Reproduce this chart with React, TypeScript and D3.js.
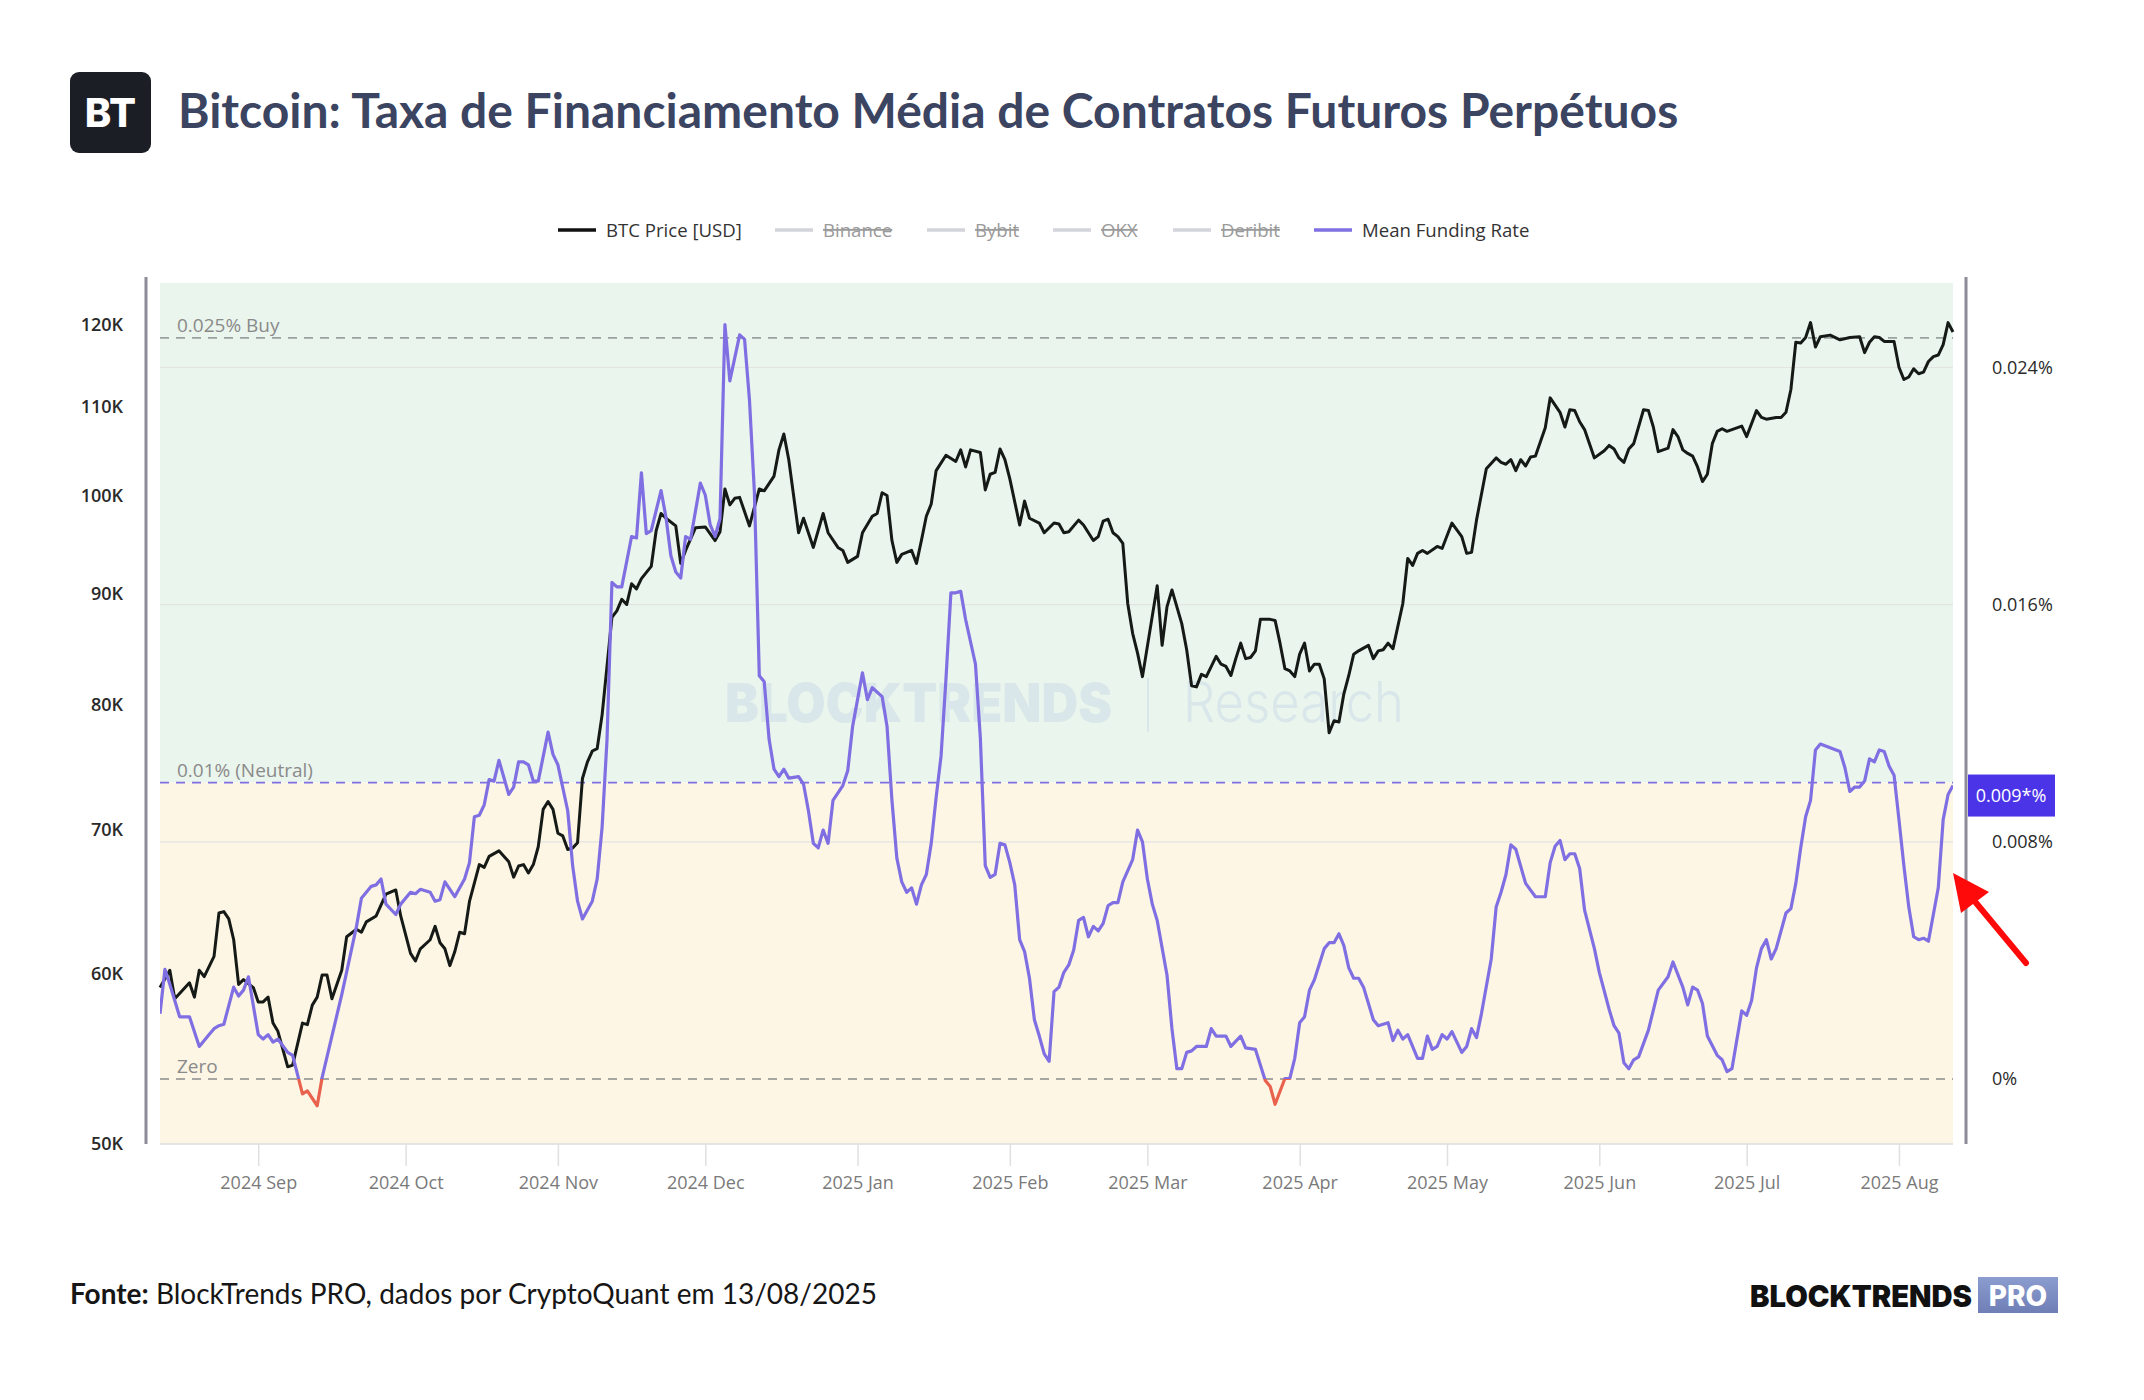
import { useEffect, useRef } from 'react'
import * as d3 from 'd3'

// BTC price (USD)
const btcDates = [
  '2024-08-12','2024-08-14','2024-08-15','2024-08-18','2024-08-19','2024-08-20','2024-08-21','2024-08-23','2024-08-24','2024-08-25',
  '2024-08-26','2024-08-27','2024-08-28','2024-08-29','2024-08-31','2024-09-01','2024-09-02','2024-09-03','2024-09-04','2024-09-05',
  '2024-09-07','2024-09-08','2024-09-10','2024-09-11','2024-09-12','2024-09-13','2024-09-14','2024-09-15','2024-09-16','2024-09-18',
  '2024-09-19','2024-09-21','2024-09-22','2024-09-23','2024-09-25','2024-09-27','2024-09-29','2024-09-30','2024-10-02','2024-10-03',
  '2024-10-04','2024-10-06','2024-10-07','2024-10-08','2024-10-09','2024-10-10','2024-10-11','2024-10-12','2024-10-13','2024-10-14',
  '2024-10-16','2024-10-17','2024-10-18','2024-10-20','2024-10-22','2024-10-23','2024-10-24','2024-10-25','2024-10-26','2024-10-27',
  '2024-10-28','2024-10-29','2024-10-30','2024-10-31','2024-11-01','2024-11-02','2024-11-03','2024-11-04','2024-11-05','2024-11-06',
  '2024-11-07','2024-11-08','2024-11-09','2024-11-10','2024-11-12','2024-11-13','2024-11-14','2024-11-15','2024-11-16','2024-11-17',
  '2024-11-18','2024-11-20','2024-11-21','2024-11-22','2024-11-23','2024-11-25','2024-11-26','2024-11-27','2024-11-29','2024-12-01',
  '2024-12-03','2024-12-04','2024-12-05','2024-12-06','2024-12-07','2024-12-08','2024-12-10','2024-12-12','2024-12-13','2024-12-15',
  '2024-12-16','2024-12-17','2024-12-18','2024-12-20','2024-12-21','2024-12-23','2024-12-25','2024-12-26','2024-12-28','2024-12-29',
  '2024-12-30','2025-01-01','2025-01-02','2025-01-04','2025-01-05','2025-01-06','2025-01-07','2025-01-08','2025-01-09','2025-01-10',
  '2025-01-12','2025-01-13','2025-01-14','2025-01-15','2025-01-16','2025-01-17','2025-01-19','2025-01-21','2025-01-22','2025-01-23',
  '2025-01-24','2025-01-26','2025-01-27','2025-01-28','2025-01-29','2025-01-30','2025-01-31','2025-02-01','2025-02-03','2025-02-04',
  '2025-02-05','2025-02-07','2025-02-08','2025-02-10','2025-02-11','2025-02-12','2025-02-13','2025-02-15','2025-02-16','2025-02-18',
  '2025-02-19','2025-02-20','2025-02-21','2025-02-22','2025-02-23','2025-02-24','2025-02-25','2025-02-26','2025-02-27','2025-02-28',
  '2025-03-03','2025-03-04','2025-03-05','2025-03-06','2025-03-08','2025-03-09','2025-03-10','2025-03-11','2025-03-12','2025-03-13',
  '2025-03-15','2025-03-16','2025-03-17','2025-03-18','2025-03-19','2025-03-20','2025-03-21','2025-03-22','2025-03-23','2025-03-24',
  '2025-03-26','2025-03-27','2025-03-28','2025-03-29','2025-03-30','2025-03-31','2025-04-01','2025-04-02','2025-04-03','2025-04-04',
  '2025-04-05','2025-04-06','2025-04-07','2025-04-08','2025-04-09','2025-04-10','2025-04-11','2025-04-12','2025-04-13','2025-04-15',
  '2025-04-16','2025-04-17','2025-04-18','2025-04-19','2025-04-20','2025-04-22','2025-04-23','2025-04-24','2025-04-25','2025-04-26',
  '2025-04-27','2025-04-29','2025-04-30','2025-05-02','2025-05-04','2025-05-05','2025-05-06','2025-05-07','2025-05-09','2025-05-11',
  '2025-05-12','2025-05-13','2025-05-14','2025-05-15','2025-05-16','2025-05-17','2025-05-18','2025-05-19','2025-05-21','2025-05-22',
  '2025-05-24','2025-05-25','2025-05-26','2025-05-27','2025-05-28','2025-05-29','2025-05-31','2025-06-02','2025-06-03','2025-06-04',
  '2025-06-05','2025-06-06','2025-06-07','2025-06-08','2025-06-10','2025-06-11','2025-06-12','2025-06-13','2025-06-15','2025-06-16',
  '2025-06-17','2025-06-18','2025-06-19','2025-06-20','2025-06-21','2025-06-22','2025-06-23','2025-06-24','2025-06-25','2025-06-26',
  '2025-06-27','2025-06-29','2025-06-30','2025-07-01','2025-07-03','2025-07-04','2025-07-05','2025-07-07','2025-07-08','2025-07-09',
  '2025-07-10','2025-07-11','2025-07-12','2025-07-13','2025-07-14','2025-07-15','2025-07-16','2025-07-18','2025-07-20','2025-07-22',
  '2025-07-24','2025-07-25','2025-07-26','2025-07-27','2025-07-28','2025-07-29','2025-07-31','2025-08-01','2025-08-02','2025-08-03',
  '2025-08-04','2025-08-05','2025-08-06','2025-08-07','2025-08-08','2025-08-09','2025-08-10','2025-08-11','2025-08-12'
]
const btcPrice = [
  59100,60200,58400,59400,58500,60200,59800,61100,64000,64100,
  63600,62200,59300,59600,59100,58200,58200,58500,56900,56400,
  54300,54400,56900,56800,58000,58500,59900,59900,58400,60200,
  62400,62900,62700,63400,63800,65300,65600,63800,61300,60800,
  61600,62200,63100,62000,61600,60500,61400,62700,62600,64800,
  67400,67200,68000,68400,67600,66500,67300,67400,66800,67400,
  68700,71500,72100,71500,69700,69500,68500,68600,69000,73900,
  75200,76100,76300,79100,87800,88400,89500,89000,91000,90500,
  91500,92700,96300,98100,97600,96800,93000,94300,96600,96700,
  95300,96200,100700,99000,99700,99800,96800,100700,100500,102100,
  105000,106800,103900,96100,97600,94600,98100,96100,94600,94300,
  93100,93700,96100,97800,98100,100300,100000,95300,93100,93900,
  94300,93000,95300,97800,99100,102700,104400,103700,105000,103100,
  105000,104700,100600,102300,102500,105100,103900,101800,96900,99400,
  97600,97100,96100,97100,97000,96100,96200,97400,96900,95300,
  95700,97300,97500,96100,95700,95000,89100,86300,84500,82400,
  90800,85200,88800,90400,87200,84800,81600,81500,82600,82400,
  84200,83500,83300,82500,84000,85400,84000,84100,84700,87600,
  87600,87500,85400,83100,82900,82400,84400,85400,82900,83500,
  83500,82200,77600,78600,78500,80900,82500,84400,84700,85200,
  84000,84700,84800,85400,84900,89100,93500,92800,94000,94300,
  94000,94700,94500,97100,95700,94000,94100,97400,102900,104100,
  103600,103400,103900,102700,103900,103200,104200,104300,107500,111000,
  109300,107600,109600,109500,108200,107300,104100,104900,105500,105100,
  104100,103600,105100,105700,109600,109500,107600,104800,105200,107300,
  106500,105000,104600,104300,103100,101500,102300,105700,107100,107400,
  107100,107500,107700,106500,109500,108700,108500,108700,108700,109300,
  112000,117800,117700,118400,120300,117200,118500,118700,118100,118400,
  118500,116500,117800,118500,118400,117900,117900,114700,113200,113500,
  114500,113900,114100,115400,116000,116200,117500,120300,119100
]

// Mean funding rate (%)
const fundingDates = [
  '2024-08-12','2024-08-13','2024-08-14','2024-08-16','2024-08-18','2024-08-20','2024-08-22','2024-08-23','2024-08-24','2024-08-25',
  '2024-08-27','2024-08-28','2024-08-29','2024-08-30','2024-09-01','2024-09-02','2024-09-03','2024-09-04','2024-09-05','2024-09-07',
  '2024-09-08','2024-09-10','2024-09-11','2024-09-13','2024-09-14','2024-09-18','2024-09-21','2024-09-22','2024-09-24','2024-09-25',
  '2024-09-26','2024-09-27','2024-09-29','2024-09-30','2024-10-02','2024-10-03','2024-10-04','2024-10-06','2024-10-07','2024-10-08',
  '2024-10-09','2024-10-11','2024-10-13','2024-10-14','2024-10-15','2024-10-16','2024-10-17','2024-10-18','2024-10-19','2024-10-20',
  '2024-10-22','2024-10-23','2024-10-24','2024-10-25','2024-10-26','2024-10-27','2024-10-28','2024-10-30','2024-10-31','2024-11-01',
  '2024-11-03','2024-11-04','2024-11-05','2024-11-06','2024-11-08','2024-11-09','2024-11-10','2024-11-11','2024-11-12','2024-11-13',
  '2024-11-14','2024-11-16','2024-11-17','2024-11-18','2024-11-19','2024-11-20','2024-11-22','2024-11-23','2024-11-24','2024-11-25',
  '2024-11-26','2024-11-27','2024-11-28','2024-11-30','2024-12-01','2024-12-02','2024-12-03','2024-12-04','2024-12-05','2024-12-06',
  '2024-12-08','2024-12-09','2024-12-10','2024-12-11','2024-12-12','2024-12-13','2024-12-14','2024-12-15','2024-12-16','2024-12-17',
  '2024-12-18','2024-12-20','2024-12-21','2024-12-22','2024-12-23','2024-12-24','2024-12-25','2024-12-26','2024-12-27','2024-12-29',
  '2024-12-30','2024-12-31','2025-01-02','2025-01-03','2025-01-04','2025-01-06','2025-01-07','2025-01-08','2025-01-09','2025-01-10',
  '2025-01-11','2025-01-12','2025-01-13','2025-01-14','2025-01-15','2025-01-16','2025-01-17','2025-01-18','2025-01-19','2025-01-20',
  '2025-01-21','2025-01-22','2025-01-23','2025-01-25','2025-01-26','2025-01-27','2025-01-28','2025-01-29','2025-01-30','2025-01-31',
  '2025-02-01','2025-02-02','2025-02-03','2025-02-04','2025-02-05','2025-02-06','2025-02-07','2025-02-08','2025-02-09','2025-02-10',
  '2025-02-11','2025-02-12','2025-02-13','2025-02-14','2025-02-15','2025-02-16','2025-02-17','2025-02-18','2025-02-19','2025-02-20',
  '2025-02-21','2025-02-22','2025-02-23','2025-02-24','2025-02-26','2025-02-27','2025-02-28','2025-03-01','2025-03-02','2025-03-03',
  '2025-03-05','2025-03-06','2025-03-07','2025-03-08','2025-03-09','2025-03-10','2025-03-11','2025-03-13','2025-03-14','2025-03-15',
  '2025-03-17','2025-03-18','2025-03-20','2025-03-21','2025-03-23','2025-03-25','2025-03-26','2025-03-27','2025-03-29','2025-03-30',
  '2025-03-31','2025-04-01','2025-04-02','2025-04-03','2025-04-04','2025-04-06','2025-04-07','2025-04-08','2025-04-09','2025-04-10',
  '2025-04-11','2025-04-12','2025-04-13','2025-04-14','2025-04-16','2025-04-17','2025-04-19','2025-04-20','2025-04-21','2025-04-22',
  '2025-04-23','2025-04-25','2025-04-26','2025-04-27','2025-04-28','2025-04-29','2025-04-30','2025-05-01','2025-05-02','2025-05-04',
  '2025-05-05','2025-05-06','2025-05-07','2025-05-08','2025-05-10','2025-05-11','2025-05-12','2025-05-13','2025-05-14','2025-05-15',
  '2025-05-17','2025-05-19','2025-05-21','2025-05-22','2025-05-23','2025-05-24','2025-05-25','2025-05-26','2025-05-27','2025-05-28',
  '2025-05-29','2025-05-31','2025-06-01','2025-06-03','2025-06-04','2025-06-05','2025-06-06','2025-06-07','2025-06-08','2025-06-09',
  '2025-06-11','2025-06-13','2025-06-15','2025-06-16','2025-06-18','2025-06-19','2025-06-20','2025-06-21','2025-06-22','2025-06-23',
  '2025-06-25','2025-06-26','2025-06-27','2025-06-28','2025-06-30','2025-07-01','2025-07-02','2025-07-03','2025-07-04','2025-07-05',
  '2025-07-06','2025-07-07','2025-07-09','2025-07-10','2025-07-11','2025-07-12','2025-07-13','2025-07-14','2025-07-15','2025-07-16',
  '2025-07-20','2025-07-21','2025-07-22','2025-07-23','2025-07-24','2025-07-25','2025-07-26','2025-07-27','2025-07-28','2025-07-29',
  '2025-07-30','2025-07-31','2025-08-01','2025-08-02','2025-08-03','2025-08-04','2025-08-05','2025-08-06','2025-08-07','2025-08-08',
  '2025-08-09','2025-08-10','2025-08-11','2025-08-12'
]
const fundingRate = [
  0.0022,0.0037,0.0032,0.0021,0.0021,0.0011,0.0015,0.0017,0.0018,0.00185,
  0.0031,0.0028,0.0030,0.00345,0.0015,0.00135,0.0015,0.00125,0.00135,0.0009,
  0.0008,-0.0005,-0.0004,-0.0009,0.00005,0.00285,0.00515,0.0061,0.0065,0.00655,
  0.00675,0.0059,0.00555,0.0059,0.0063,0.00625,0.0064,0.0063,0.0060,0.00605,
  0.00665,0.00615,0.00675,0.0073,0.00885,0.0089,0.00925,0.0101,0.01005,0.01075,
  0.0096,0.00985,0.0107,0.0107,0.0106,0.01005,0.01005,0.0117,0.01095,0.0106,
  0.00905,0.0072,0.0060,0.0054,0.0060,0.00675,0.0085,0.01145,0.01675,0.0166,
  0.0166,0.0183,0.01825,0.02045,0.0184,0.0185,0.01985,0.01895,0.01765,0.0171,
  0.0169,0.0183,0.0182,0.0201,0.0197,0.0187,0.0183,0.0189,0.02545,0.02355,
  0.0251,0.02495,0.0229,0.0198,0.0136,0.0134,0.01145,0.01045,0.0102,0.01045,
  0.01015,0.0102,0.00995,0.00905,0.00795,0.0078,0.0084,0.00795,0.0094,0.0099,
  0.0104,0.0119,0.0137,0.0128,0.0132,0.0129,0.0119,0.0094,0.00745,0.00665,
  0.0063,0.00645,0.0059,0.00655,0.0069,0.00795,0.0095,0.0109,0.0135,0.0164,
  0.0164,0.01645,0.0155,0.0140,0.0115,0.0072,0.0068,0.0069,0.00795,0.0079,
  0.0073,0.00655,0.0047,0.0043,0.0034,0.0020,0.00145,0.00085,0.0006,0.00295,
  0.0031,0.0036,0.00385,0.00435,0.00535,0.00545,0.0048,0.00515,0.0050,0.00525,
  0.00585,0.00595,0.00595,0.00665,0.0074,0.0084,0.0080,0.00675,0.0059,0.00535,
  0.0035,0.0017,0.00035,0.00035,0.0009,0.00095,0.0011,0.0011,0.0017,0.00145,
  0.00145,0.0011,0.00145,0.00105,0.0010,-0.00005,-0.00025,-0.00085,0.00002,0.00002,
  0.0007,0.0019,0.0021,0.0030,0.00335,0.0044,0.0046,0.0046,0.0049,0.0045,
  0.00375,0.0034,0.0034,0.0031,0.0020,0.0018,0.0019,0.0013,0.00165,0.00135,
  0.0015,0.0007,0.0007,0.00145,0.0010,0.0011,0.0015,0.00135,0.0016,0.0009,
  0.0011,0.0017,0.0014,0.0022,0.00405,0.0058,0.0063,0.0069,0.0079,0.00775,
  0.0066,0.00615,0.00615,0.0073,0.00785,0.00805,0.0074,0.0076,0.0076,0.0071,
  0.0057,0.0044,0.0036,0.00235,0.0018,0.00155,0.00055,0.00035,0.00065,0.00075,
  0.00165,0.0030,0.00345,0.00395,0.0031,0.0025,0.0031,0.0030,0.00255,0.00145,
  0.0008,0.00065,0.00025,0.00035,0.0023,0.00215,0.00265,0.00375,0.0044,0.0047,
  0.00405,0.0044,0.0056,0.00575,0.0066,0.0078,0.00885,0.0094,0.0111,0.0113,
  0.01105,0.0105,0.0097,0.00985,0.00985,0.01005,0.0108,0.0107,0.0111,0.01105,
  0.01055,0.01025,0.00875,0.0072,0.0058,0.0048,0.0047,0.00475,0.00465,0.00555,
  0.00645,0.00875,0.0096,0.0099
]

const priceTicks = [50000, 60000, 70000, 80000, 90000, 100000, 110000, 120000]
const rateTicks = [0, 0.008, 0.016, 0.024]
const monthTicks = [
  '2024-09-01','2024-10-01','2024-11-01','2024-12-01','2025-01-01','2025-02-01',
  '2025-03-01','2025-04-01','2025-05-01','2025-06-01','2025-07-01','2025-08-01'
]
const legendItems = [
  { name: 'BTC Price [USD]', color: '#111111', hidden: false },
  { name: 'Binance', color: '#d3d3dc', hidden: true },
  { name: 'Bybit', color: '#d3d3dc', hidden: true },
  { name: 'OKX', color: '#d3d3dc', hidden: true },
  { name: 'Deribit', color: '#d3d3dc', hidden: true },
  { name: 'Mean Funding Rate', color: '#7f6fe2', hidden: false }
]
const refLines = [
  { value: 0.025, label: '0.025% Buy', color: '#9aa39f' },
  { value: 0.01, label: '0.01% (Neutral)', color: '#7f6fe2' },
  { value: 0, label: 'Zero', color: '#8c8c8c' }
]

const W = 2144
const H = 1400
const FONT = '"Open Sans", "Noto Sans", sans-serif'

const App = () => {
  const svgRef = useRef<SVGSVGElement>(null)

  useEffect(() => {
    if (!svgRef.current) return
    document.body.style.margin = '0'

    const plot = { left: 160, right: 1953, top: 283, bottom: 1144 }
    const parse = d3.timeParse('%Y-%m-%d')

    const svg = d3.select(svgRef.current)
    svg.selectAll('*').remove()
    svg.attr('width', W).attr('height', H)

    svg.append('rect').attr('width', W).attr('height', H).attr('fill', '#ffffff')

    // Scales
    const x = d3.scaleTime()
      .domain([parse('2024-08-12') as Date, parse('2025-08-12') as Date])
      .range([plot.left, plot.right])
    const yPrice = d3.scaleLog()
      .domain([50000, 125500])
      .range([plot.bottom, plot.top])
    const yRate = d3.scaleLinear()
      .domain([-0.00219, 0.02685])
      .range([plot.bottom, plot.top])

    // Header
    const header = svg.append('g')
    header.append('rect')
      .attr('x', 70).attr('y', 72).attr('width', 81).attr('height', 81)
      .attr('rx', 9).attr('fill', '#1b1e25')
    header.append('text')
      .attr('x', 110.5).attr('y', 127)
      .attr('text-anchor', 'middle')
      .attr('fill', '#ffffff')
      .attr('font-family', 'Inter, sans-serif')
      .attr('font-weight', 800)
      .attr('font-size', 40)
      .text('BT')
    header.append('text')
      .attr('x', 178).attr('y', 128)
      .attr('fill', '#3b4461')
      .attr('font-family', 'Lato, sans-serif')
      .attr('font-weight', 700)
      .attr('font-size', 48)
      .text('Bitcoin: Taxa de Financiamento Média de Contratos Futuros Perpétuos')

    // Legend
    const legendX = [558, 775, 927, 1053, 1173, 1314]
    const legend = svg.append('g').attr('transform', 'translate(0,230)')
    legendItems.forEach((item, i) => {
      const gItem = legend.append('g').attr('transform', `translate(${legendX[i]},0)`)
      gItem.append('line')
        .attr('x1', 0).attr('x2', 38)
        .attr('stroke', item.color).attr('stroke-width', 3.5)
      gItem.append('text')
        .attr('x', 48).attr('dy', '0.35em')
        .attr('font-family', FONT).attr('font-size', 18.6)
        .attr('fill', item.hidden ? '#9a9a9a' : '#333333')
        .style('text-decoration', item.hidden ? 'line-through' : 'none')
        .text(item.name)
    })

    // Background zones
    svg.append('rect')
      .attr('x', plot.left).attr('y', plot.top)
      .attr('width', plot.right - plot.left)
      .attr('height', yRate(0.01) - plot.top)
      .attr('fill', '#eaf5ed')
    svg.append('rect')
      .attr('x', plot.left).attr('y', yRate(0.01))
      .attr('width', plot.right - plot.left)
      .attr('height', plot.bottom - yRate(0.01))
      .attr('fill', '#fdf6e5')

    // Grid lines follow the right axis
    svg.append('g').selectAll('line')
      .data(rateTicks.filter(d => d > 0))
      .enter().append('line')
      .attr('x1', plot.left).attr('x2', plot.right)
      .attr('y1', d => yRate(d)).attr('y2', d => yRate(d))
      .attr('stroke', '#e2e4e2').attr('stroke-width', 1.2)

    // Plot bottom border
    svg.append('line')
      .attr('x1', plot.left).attr('x2', plot.right)
      .attr('y1', plot.bottom).attr('y2', plot.bottom)
      .attr('stroke', '#dcdcdc').attr('stroke-width', 1.5)

    // Watermark
    const wm = svg.append('g').attr('opacity', 0.75)
    wm.append('text')
      .attr('x', 725).attr('y', 722)
      .attr('font-family', 'Inter, sans-serif').attr('font-weight', 900)
      .attr('font-size', 54).attr('fill', '#d4e3ea')
      .attr('textLength', 387).attr('lengthAdjust', 'spacingAndGlyphs')
      .text('BLOCKTRENDS')
    wm.append('line')
      .attr('x1', 1148).attr('x2', 1148).attr('y1', 678).attr('y2', 732)
      .attr('stroke', '#d4e3ea').attr('stroke-width', 2)
    wm.append('text')
      .attr('x', 1183).attr('y', 722)
      .attr('font-family', 'Inter, sans-serif').attr('font-weight', 300)
      .attr('font-size', 56).attr('fill', '#d4e3ea')
      .attr('textLength', 221).attr('lengthAdjust', 'spacingAndGlyphs')
      .text('Research')

    // Reference lines
    refLines.forEach(r => {
      svg.append('line')
        .attr('x1', plot.left).attr('x2', plot.right)
        .attr('y1', yRate(r.value)).attr('y2', yRate(r.value))
        .attr('stroke', r.color).attr('stroke-width', 1.6)
        .attr('stroke-dasharray', '9,7')
      svg.append('text')
        .attr('x', 177).attr('y', yRate(r.value) - 6)
        .attr('font-family', FONT).attr('font-size', 19)
        .attr('fill', '#8a8a8a')
        .text(r.label)
    })

    // BTC price line
    const priceData = btcDates.map((d, i) => ({ date: parse(d) as Date, value: btcPrice[i] }))
    const priceLine = d3.line<{ date: Date, value: number }>()
      .x(d => x(d.date))
      .y(d => yPrice(d.value))
    svg.append('path')
      .datum(priceData)
      .attr('fill', 'none')
      .attr('stroke', '#161a17')
      .attr('stroke-width', 3)
      .attr('stroke-linejoin', 'round')
      .attr('d', priceLine)

    // Funding rate line: purple above zero, red below
    const rateData = fundingDates.map((d, i) => ({ date: parse(d) as Date, value: fundingRate[i] }))
    const rateLine = d3.line<{ date: Date, value: number }>()
      .x(d => x(d.date))
      .y(d => yRate(d.value))
    const defs = svg.append('defs')
    defs.append('clipPath').attr('id', 'clip-pos')
      .append('rect')
      .attr('x', plot.left).attr('y', plot.top)
      .attr('width', plot.right - plot.left).attr('height', yRate(0) - plot.top)
    defs.append('clipPath').attr('id', 'clip-neg')
      .append('rect')
      .attr('x', plot.left).attr('y', yRate(0))
      .attr('width', plot.right - plot.left).attr('height', plot.bottom - yRate(0))
    svg.append('path')
      .datum(rateData)
      .attr('clip-path', 'url(#clip-pos)')
      .attr('fill', 'none')
      .attr('stroke', '#7f6fe2')
      .attr('stroke-width', 3.2)
      .attr('stroke-linejoin', 'round')
      .attr('d', rateLine)
    svg.append('path')
      .datum(rateData)
      .attr('clip-path', 'url(#clip-neg)')
      .attr('fill', 'none')
      .attr('stroke', '#e8624e')
      .attr('stroke-width', 3.2)
      .attr('stroke-linejoin', 'round')
      .attr('d', rateLine)

    // Axis lines
    svg.append('line')
      .attr('x1', 146).attr('x2', 146).attr('y1', 277).attr('y2', plot.bottom)
      .attr('stroke', '#8c8b98').attr('stroke-width', 3)
    svg.append('line')
      .attr('x1', 1966).attr('x2', 1966).attr('y1', 277).attr('y2', plot.bottom)
      .attr('stroke', '#8c8b98').attr('stroke-width', 3)

    // Left axis labels
    svg.append('g').selectAll('text')
      .data(priceTicks)
      .enter().append('text')
      .attr('x', 123).attr('y', d => yPrice(d)).attr('dy', '0.35em')
      .attr('text-anchor', 'end')
      .attr('font-family', FONT).attr('font-size', 18).attr('font-weight', 600)
      .attr('fill', '#2a2a2a')
      .text(d => `${d / 1000}K`)

    // Right axis labels
    svg.append('g').selectAll('text')
      .data(rateTicks)
      .enter().append('text')
      .attr('x', 1992).attr('y', d => yRate(d)).attr('dy', '0.35em')
      .attr('font-family', FONT).attr('font-size', 18)
      .attr('fill', '#2a2a2a')
      .text(d => `${+(d).toFixed(3)}%`)

    // X axis
    const xAxis = d3.axisBottom(x)
      .tickValues(monthTicks.map(d => parse(d) as Date))
      .tickFormat(d => d3.timeFormat('%Y %b')(d as Date))
      .tickSize(22)
      .tickPadding(10)
    const gx = svg.append('g')
      .attr('transform', `translate(0,${plot.bottom})`)
      .call(xAxis)
    gx.select('.domain').remove()
    gx.selectAll('.tick line').attr('stroke', '#e0e0e0').attr('stroke-width', 1.5)
    gx.selectAll('.tick text')
      .attr('font-family', FONT).attr('font-size', 18).attr('fill', '#7a7a7a')

    // Current value badge
    const last = fundingRate[fundingRate.length - 1]
    const badgeY = yRate(last) + 10
    svg.append('rect')
      .attr('x', 1968).attr('y', badgeY - 21).attr('width', 87).attr('height', 42)
      .attr('fill', '#4b33e8')
    svg.append('text')
      .attr('x', 2011).attr('y', badgeY).attr('dy', '0.35em')
      .attr('text-anchor', 'middle')
      .attr('font-family', FONT).attr('font-size', 18).attr('fill', '#ffffff')
      .text('0.009*%')

    // Red arrow annotation
    svg.append('line')
      .attr('x1', 2026).attr('y1', 963).attr('x2', 1972).attr('y2', 898)
      .attr('stroke', '#ff0a0a').attr('stroke-width', 6).attr('stroke-linecap', 'round')
    svg.append('path')
      .attr('d', 'M1953,873 L1961,913 L1989,892 Z')
      .attr('fill', '#ff0a0a')

    // Footer
    const footer = svg.append('text')
      .attr('x', 70).attr('y', 1304)
      .attr('font-family', 'Lato, sans-serif').attr('font-size', 28).attr('fill', '#161616')
    footer.append('tspan').attr('font-weight', 700).text('Fonte:')
    footer.append('tspan').text(' BlockTrends PRO, dados por CryptoQuant em 13/08/2025')

    svg.append('text')
      .attr('x', 1750).attr('y', 1307)
      .attr('font-family', 'Inter, sans-serif').attr('font-weight', 900)
      .attr('font-size', 30).attr('fill', '#111111')
      .attr('textLength', 222).attr('lengthAdjust', 'spacingAndGlyphs')
      .text('BLOCKTRENDS')
    const grad = defs.append('linearGradient').attr('id', 'pro-grad')
      .attr('x1', 0).attr('x2', 0).attr('y1', 0).attr('y2', 1)
    grad.append('stop').attr('offset', '0%').attr('stop-color', '#8b9ccf')
    grad.append('stop').attr('offset', '100%').attr('stop-color', '#6f7fb6')
    svg.append('rect')
      .attr('x', 1978).attr('y', 1277).attr('width', 80).attr('height', 36)
      .attr('fill', 'url(#pro-grad)')
    svg.append('text')
      .attr('x', 2018).attr('y', 1306)
      .attr('text-anchor', 'middle')
      .attr('font-family', 'Inter, sans-serif').attr('font-weight', 800)
      .attr('font-size', 28).attr('fill', '#ffffff')
      .text('PRO')
  }, [])

  return <svg ref={svgRef} style={{ display: 'block' }}></svg>
}

export default App
